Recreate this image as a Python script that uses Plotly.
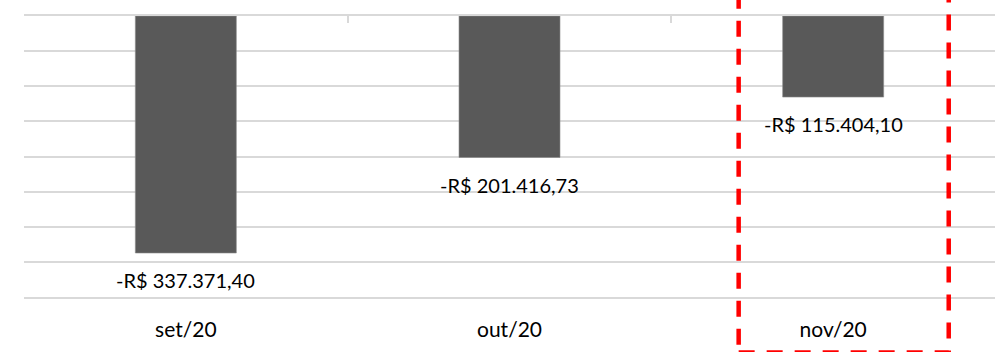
import plotly.graph_objects as go

# Monthly result (R$)
months = ["set/20", "out/20", "nov/20"]
results = [-337371.40, -201416.73, -115404.10]


def brl(v):
    s = f"{abs(v):,.2f}".replace(",", "X").replace(".", ",").replace("X", ".")
    return ("-" if v < 0 else "") + "R$ " + s


FONT = "Lato"
GRID = "#d9d9d9"

fig = go.Figure()
fig.add_trace(go.Bar(
    x=months, y=results,
    marker=dict(color="#595959", line=dict(color="#8c8c8c", width=0.6)),
    hoverinfo="skip", showlegend=False,
))
# Companion trace so the top axis (zero line with category ticks) is drawn
fig.add_trace(go.Scatter(
    x=months, y=[0] * len(months), xaxis="x2", mode="markers",
    marker=dict(opacity=0), hoverinfo="skip", showlegend=False,
))

for m, v in zip(months, results):
    fig.add_annotation(
        x=m, y=v, text=brl(v), showarrow=False, yanchor="middle", yshift=-27,
        font=dict(family=FONT, size=20, color="#000000"),
    )

fig.update_layout(
    width=1004, height=352,
    margin=dict(l=24, r=9, t=16, b=55),
    paper_bgcolor="white", plot_bgcolor="white",
    bargap=0.688,
    xaxis=dict(
        type="category", showgrid=False, ticks="",
        showline=True, linecolor=GRID, linewidth=1.5,
        tickfont=dict(family=FONT, size=21, color="#000000"),
        ticklabelstandoff=13,
        range=[-0.5, 2.5],
    ),
    xaxis2=dict(
        type="category", overlaying="x", side="top", matches="x",
        showline=True, linecolor=GRID, linewidth=1.5,
        ticks="inside", tickson="boundaries", ticklen=7, tickcolor=GRID, tickwidth=1.5,
        showticklabels=False, showgrid=False,
    ),
    yaxis=dict(
        range=[-400000, 0], dtick=50000, showticklabels=False,
        showgrid=True, gridcolor=GRID, gridwidth=1.5, zeroline=False,
    ),
    shapes=[dict(
        type="rect", xref="x", yref="paper",
        x0=1.708, x1=2.357, y0=-0.1975, y1=1.09,
        line=dict(color="#ff0000", width=4.5, dash="16px,12px"),
        fillcolor="rgba(0,0,0,0)",
    )],
)

fig.write_html("out.html")
